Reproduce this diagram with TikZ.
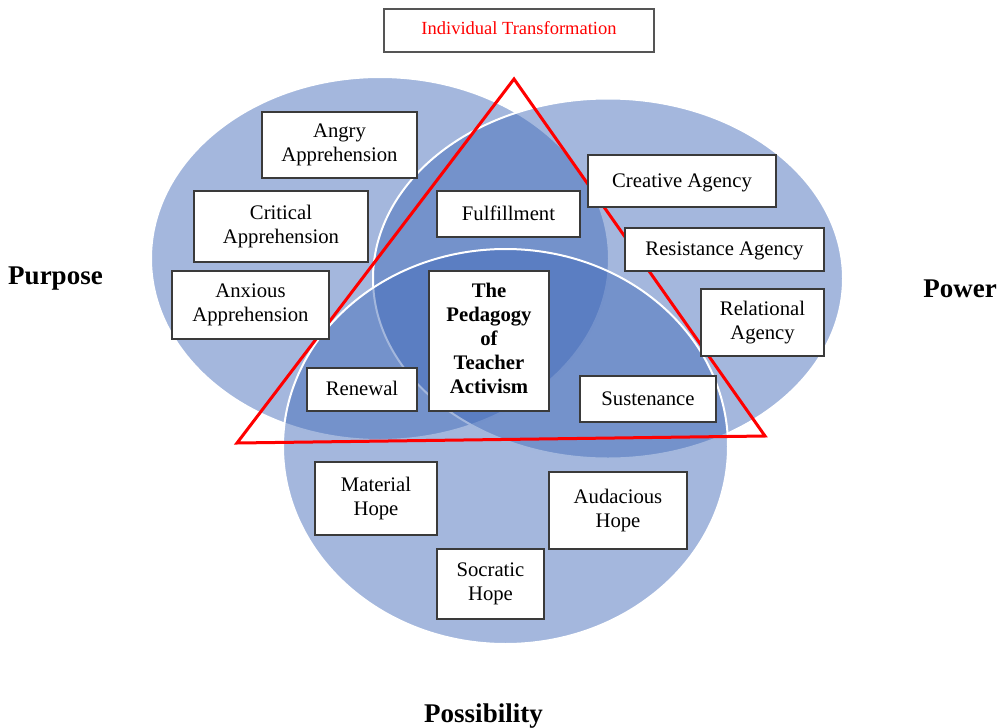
\documentclass[tikz,border=0pt]{standalone}
\usepackage{fontspec}
\setmainfont{Liberation Serif}
\definecolor{vennblue}{RGB}{64,105,184}
\definecolor{boxline}{RGB}{58,58,58}
\definecolor{titleline}{RGB}{85,85,85}
\newcommand{\topstrut}{\rule{0pt}{16.8pt}}
\newcommand{\botstrut}{\rule[-4.5pt]{0pt}{4.5pt}}
\begin{document}
\begin{tikzpicture}[x=1pt,y=-1pt,
  venn/.style={fill=vennblue,fill opacity=0.48,draw=white,draw opacity=1,line width=2},
  tri/.style={draw=red,line width=3,line join=miter},
  box/.style={draw=boxline,fill=white,line width=1.3,align=center,inner sep=0,
    font=\fontsize{20.7}{24}\selectfont,
    execute at begin node={\topstrut},execute at end node={\botstrut}},
  corebox/.style={box,font=\fontsize{20.7}{24}\selectfont\bfseries},
  titlebox/.style={draw=titleline,fill=white,line width=1.3,inner sep=0,
    text=red,font=\fontsize{18.5}{22}\selectfont,
    execute at begin node={\strut}},
  dimlabel/.style={font=\fontsize{27}{30}\selectfont\bfseries,anchor=base,inner sep=0}
]
\useasboundingbox (0,0) rectangle (1004,728);

% the three overlapping domains
\path[venn] (380,258.5) ellipse [x radius=229,y radius=181.5];
\path[venn] (608,278.5) ellipse [x radius=235,y radius=180];
\path[venn] (505.5,446.5) ellipse [x radius=222.5,y radius=197.5];

% transformation triangle
\coordinate (apex) at (514,79);
\coordinate (right) at (765,436);
\coordinate (left) at (237,443);
\draw[tri] (apex) -- (right) -- (left) -- cycle;

% title
\node[titlebox,minimum width=270,minimum height=43] (title) at (519,30.5) {Individual Transformation};

% Purpose
\node[box,minimum width=155,minimum height=66] (angry) at (339.5,145) {Angry\\Apprehension};
\node[box,minimum width=174,minimum height=71] (critical) at (281,226.5) {Critical\\Apprehension};
\node[box,minimum width=157,minimum height=68] (anxious) at (250.5,305) {Anxious\\Apprehension};

% Power
\node[box,minimum width=188,minimum height=52] (creative) at (682,181) {Creative Agency};
\node[box,minimum width=199,minimum height=43] (resistance) at (724.5,249.5) {Resistance Agency};
\node[box,minimum width=123,minimum height=67] (relational) at (762.5,322.5) {Relational\\Agency};

% overlaps
\node[box,minimum width=143,minimum height=46] (fulfil) at (508.5,214) {Fulfillment};
\node[box,minimum width=110,minimum height=43] (renewal) at (362,389.5) {Renewal};
\node[box,minimum width=136,minimum height=46] (sustenance) at (648,399) {Sustenance};
\node[corebox,minimum width=120,minimum height=140] (core) at (489,341) {The\\Pedagogy\\of\\Teacher\\Activism};

% Possibility
\node[box,minimum width=122,minimum height=73] (material) at (376,498.5) {Material\\Hope};
\node[box,minimum width=138,minimum height=77] (audacious) at (618,510.5) {Audacious\\Hope};
\node[box,minimum width=107,minimum height=70] (socratic) at (490.5,584) {Socratic\\Hope};

% domain names
\node[dimlabel] (purpose) at (55.5,284) {Purpose};
\node[dimlabel] (power) at (960,297) {Power};
\node[dimlabel] (possibility) at (483.5,722) {Possibility};
\end{tikzpicture}
\end{document}
